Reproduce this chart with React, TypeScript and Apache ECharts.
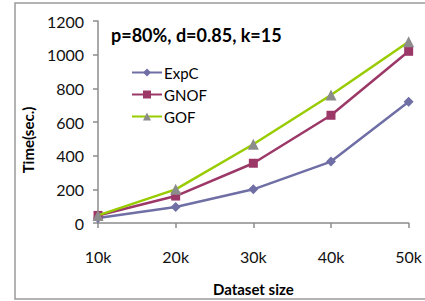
import React, { useEffect, useRef } from "react";
import * as echarts from "echarts";

const categories = ["10k", "20k", "30k", "40k", "50k"];
const expC = [30, 95, 200, 365, 720];
const gnof = [45, 160, 355, 640, 1020];
const gof = [45, 200, 468, 760, 1077];

const FONT = "Lato, 'Open Sans', sans-serif";

export default function App() {
  const ref = useRef<HTMLDivElement>(null);
  useEffect(() => {
    if (!ref.current) return;
    const chart = echarts.init(ref.current, null, { renderer: "svg" });
    chart.setOption({
      animation: false,
      backgroundColor: "#fff",
      textStyle: { fontFamily: FONT },
      graphic: [
        {
          type: "rect",
          shape: { x: 15, y: 3, width: 420, height: 296 },
          style: { fill: "none", stroke: "#9a9a9a", lineWidth: 1.5 },
          silent: true,
        },
      ],
      title: {
        text: "p=80%, d=0.85, k=15",
        left: 106,
        top: 21,
        textStyle: { fontFamily: FONT, fontSize: 18, fontWeight: "bold", color: "#000" },
      },
      legend: {
        orient: "vertical",
        left: 126,
        top: 60,
        itemWidth: 30,
        itemHeight: 10,
        itemGap: 7,
        textStyle: { fontFamily: FONT, fontSize: 15, color: "#000", padding: [0, 0, 0, -3] },
        data: ["ExpC", "GNOF", "GOF"],
      },
      grid: { left: 98, right: 15, top: 21, bottom: 78, containLabel: false },
      xAxis: {
        type: "category",
        data: categories,
        boundaryGap: false,
        name: "Dataset size",
        nameLocation: "middle",
        nameGap: 58,
        nameTextStyle: { fontFamily: FONT, fontSize: 15, fontWeight: "bold", color: "#000" },
        axisLine: { lineStyle: { color: "#8c8c8c", width: 1.5 } },
        axisTick: { show: true, length: 5, inside: false, lineStyle: { color: "#8c8c8c", width: 1.5 } },
        axisLabel: { margin: 25, fontSize: 16, color: "#111", fontFamily: FONT },
        splitLine: { show: false },
      },
      yAxis: {
        type: "value",
        min: 0,
        max: 1200,
        interval: 200,
        name: "Time(sec.)",
        nameLocation: "middle",
        nameGap: 62,
        nameRotate: 90,
        nameTextStyle: {
          fontFamily: FONT,
          fontSize: 15,
          fontWeight: "bold",
          color: "#000",
          padding: [0, 36, 0, 0],
        },
        axisLine: { show: true, lineStyle: { color: "#8c8c8c", width: 1.5 } },
        axisTick: { show: true, length: 5, lineStyle: { color: "#8c8c8c", width: 1.5 } },
        axisLabel: {
          margin: 14,
          fontSize: 16,
          color: "#111",
          fontFamily: FONT,
          formatter: (v: number) => String(v),
        },
        splitLine: { show: false },
      },
      series: [
        {
          name: "ExpC",
          type: "line",
          data: expC,
          symbol: "diamond",
          symbolSize: 10,
          lineStyle: { color: "#6f6fa6", width: 2.5 },
          itemStyle: { color: "#6f6fa6" },
          z: 3,
        },
        {
          name: "GNOF",
          type: "line",
          data: gnof,
          symbol: "rect",
          symbolSize: 9,
          lineStyle: { color: "#9c3868", width: 2.5 },
          itemStyle: { color: "#9c3868" },
          z: 4,
        },
        {
          name: "GOF",
          type: "line",
          data: gof,
          symbol: "triangle",
          symbolSize: 11,
          lineStyle: { color: "#99cc00", width: 2.5 },
          itemStyle: { color: "#8c8c8c" },
          z: 5,
        },
      ],
    });
    return () => chart.dispose();
  }, []);
  return <div ref={ref} style={{ width: 425, height: 301, position: "absolute", left: 0, top: 0 }} />;
}
